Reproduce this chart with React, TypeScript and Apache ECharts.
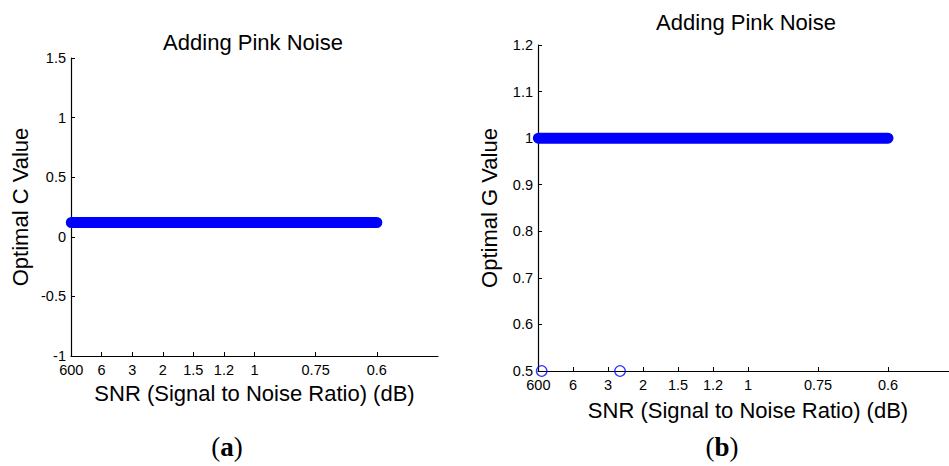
import React, { useEffect, useRef } from "react";
import * as echarts from "echarts";

// ---- data ----
const snrTicks = [600, 6, 3, 2, 1.5, 1.2, 1, 0.75, 0.6];
const snrTickLabels = ["600", "6", "3", "2", "1.5", "1.2", "1", "0.75", "0.6"];
const snrSamples = [600, 6, 3, 2, 1.5, 1.2, 1, 0.75, 0.6];
const optimalC = [0.12, 0.12, 0.12, 0.12, 0.12, 0.12, 0.12, 0.12, 0.12];
const optimalG = [1, 1, 1, 1, 1, 1, 1, 1, 1];
const gOutlierSnr = [57, 2.56];
const gOutlierValue = [0.5, 0.5];

const titleText = "Adding Pink Noise";
const xName = "SNR (Signal to Noise Ratio) (dB)";
const yNameC = "Optimal C Value";
const yNameG = "Optimal G Value";

const SANS = "'Liberation Sans', Arial, Helvetica, sans-serif";
const SERIF = "'Liberation Serif', 'Times New Roman', serif";
const BLUE = "#0000ff";

const inv = (s: number) => 1 / s;
const tickPos = snrTicks.map(inv);

function xLabel(v: number) {
  for (let i = 0; i < tickPos.length; i++) {
    if (Math.abs(tickPos[i] - v) < 1e-6) return snrTickLabels[i];
  }
  return "";
}

function makeX(gridIndex: number, nameGap: number) {
  return {
    type: "value",
    gridIndex,
    min: 0,
    max: 2,
    name: xName,
    nameLocation: "middle",
    nameGap,
    nameTextStyle: { fontFamily: SANS, fontSize: 22, color: "#000" },
    axisLine: { show: true, onZero: false, lineStyle: { color: "#000", width: 1.2 } },
    axisTick: { show: true, inside: true, length: 4, customValues: tickPos, lineStyle: { color: "#000" } },
    axisLabel: {
      show: true,
      customValues: tickPos,
      formatter: (v: number) => xLabel(v),
      margin: 6,
      fontFamily: SANS,
      fontSize: 14.5,
      color: "#000",
      showMinLabel: true,
      showMaxLabel: true,
    },
    splitLine: { show: false },
  };
}

function makeY(gridIndex: number, min: number, max: number, interval: number, name: string, nameGap: number) {
  return {
    type: "value",
    gridIndex,
    min,
    max,
    interval,
    name,
    nameLocation: "middle",
    nameGap,
    nameTextStyle: { fontFamily: SANS, fontSize: 22, color: "#000" },
    axisLine: { show: true, onZero: false, lineStyle: { color: "#000", width: 1.2 } },
    axisTick: { show: true, inside: true, length: 4, lineStyle: { color: "#000" } },
    axisLabel: {
      margin: 5,
      fontFamily: SANS,
      fontSize: 14.5,
      color: "#000",
      formatter: (v: number) => String(parseFloat(v.toFixed(2))),
    },
    splitLine: { show: false },
  };
}

export default function App() {
  const ref = useRef<HTMLDivElement>(null);

  useEffect(() => {
    document.body.style.margin = "0";
    if (!ref.current) return;
    const chart = echarts.init(ref.current, null, { renderer: "svg" });

    const option: any = {
      animation: false,
      backgroundColor: "#ffffff",
      grid: [
        { left: 71, top: 58, width: 367, height: 298, outerBoundsMode: "none", containLabel: false },
        { left: 538, top: 45, width: 420, height: 326, outerBoundsMode: "none", containLabel: false },
      ],
      xAxis: [makeX(0, 26.5), makeX(1, 28.5)],
      yAxis: [
        makeY(0, -1, 1.5, 0.5, yNameC, 39.5),
        makeY(1, 0.5, 1.2, 0.1, yNameG, 38),
      ],
      series: [
        {
          type: "line",
          xAxisIndex: 0,
          yAxisIndex: 0,
          data: snrSamples.map((s, i) => [inv(s), optimalC[i]]),
          symbol: "none",
          lineStyle: { color: BLUE, width: 11, cap: "round" },
          clip: false,
        },
        {
          type: "line",
          xAxisIndex: 1,
          yAxisIndex: 1,
          data: snrSamples.map((s, i) => [inv(s), optimalG[i]]),
          symbol: "none",
          lineStyle: { color: BLUE, width: 11, cap: "round" },
          clip: false,
        },
        {
          type: "scatter",
          xAxisIndex: 1,
          yAxisIndex: 1,
          data: gOutlierSnr.map((s, i) => [inv(s), gOutlierValue[i]]),
          symbol: "circle",
          symbolSize: 10.5,
          itemStyle: { color: "rgba(0,0,0,0)", borderColor: BLUE, borderWidth: 1.3 },
          clip: false,
        },
      ],
      graphic: [
        {
          type: "text",
          x: 253,
          y: 42,
          style: { text: titleText, fontFamily: SANS, fontSize: 22, fill: "#000", align: "center", verticalAlign: "middle" },
        },
        {
          type: "text",
          x: 746,
          y: 22,
          style: { text: titleText, fontFamily: SANS, fontSize: 22, fill: "#000", align: "center", verticalAlign: "middle" },
        },
        {
          type: "text",
          x: 227,
          y: 447,
          style: {
            text: "{p|(}{b|a}{p|)}",
            align: "center",
            verticalAlign: "middle",
            rich: {
              p: { fontFamily: SERIF, fontSize: 27, fill: "#000" },
              b: { fontFamily: SERIF, fontSize: 27, fontWeight: "bold", fill: "#000" },
            },
          },
        },
        {
          type: "text",
          x: 722,
          y: 447,
          style: {
            text: "{p|(}{b|b}{p|)}",
            align: "center",
            verticalAlign: "middle",
            rich: {
              p: { fontFamily: SERIF, fontSize: 27, fill: "#000" },
              b: { fontFamily: SERIF, fontSize: 27, fontWeight: "bold", fill: "#000" },
            },
          },
        },
      ],
    };

    chart.setOption(option);
    return () => chart.dispose();
  }, []);

  return <div ref={ref} style={{ width: 949, height: 466, position: "absolute", left: 0, top: 0 }} />;
}
